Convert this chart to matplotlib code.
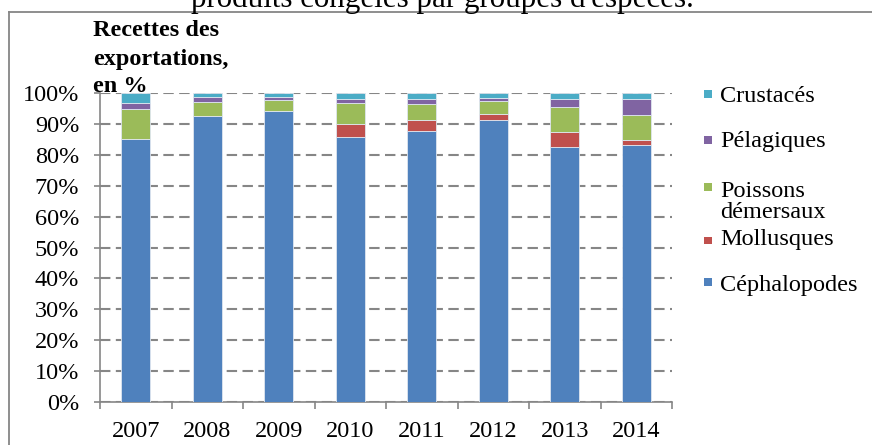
import matplotlib
matplotlib.use("Agg")
import matplotlib.pyplot as plt
import numpy as np
from matplotlib.patches import Rectangle
from matplotlib.lines import Line2D

years = ["2007", "2008", "2009", "2010", "2011", "2012", "2013", "2014"]

cephalopodes = [85.3, 92.5, 94.4, 85.8, 87.7, 91.4, 82.5, 83.1]
mollusques = [0.0, 0.0, 0.0, 4.3, 3.8, 2.0, 5.1, 1.8]
demersaux = [9.5, 4.8, 3.4, 6.9, 5.0, 4.1, 8.1, 8.1]
pelagiques = [2.2, 1.4, 1.1, 1.3, 1.6, 1.1, 2.4, 5.3]
crustaces = [3.0, 1.3, 1.1, 1.7, 1.9, 1.4, 1.9, 1.7]

series = [
    ("Céphalopodes", cephalopodes, "#4F81BD"),
    ("Mollusques", mollusques, "#C0504D"),
    ("Poissons\ndémersaux", demersaux, "#9BBB59"),
    ("Pélagiques", pelagiques, "#8064A2"),
    ("Crustacés", crustaces, "#4BACC6"),
]

plt.rcParams["font.family"] = ["Liberation Serif", "DejaVu Serif"]
plt.rcParams["font.size"] = 17.5

W, H = 872, 445
fig = plt.figure(figsize=(W / 100, H / 100), dpi=100)


def fx(px):
    return px / W


def fy(py):
    return (H - py) / H


ax = fig.add_axes([fx(100), fy(401.7), fx(672) - fx(100), fy(93.3) - fy(401.7)])

x = np.arange(len(years))
bottom = np.zeros(len(years))
for name, vals, color in series:
    ax.bar(x, vals, width=0.41, bottom=bottom, color=color,
           edgecolor="#dfe6f0", linewidth=0.6, zorder=3)
    bottom += np.array(vals)

ax.set_xlim(-0.5, len(years) - 0.5)
ax.set_ylim(0, 100)
ax.set_yticks(np.arange(0, 101, 10))
ax.set_yticklabels([f"{v}%" for v in range(0, 101, 10)])
ax.set_xticks(x)
ax.set_xticklabels(years)
ax.set_xticks(np.arange(-0.5, len(years)), minor=True)
ax.tick_params(axis="x", which="major", length=0, pad=14)
ax.tick_params(axis="x", which="minor", length=5, width=1.2, color="#868686", direction="out")
ax.tick_params(axis="y", length=4, width=1.2, color="#868686", direction="out", pad=11)

ax.yaxis.grid(True, linestyle=(0, (5, 2.6)), color="#868686", linewidth=1.5, zorder=0)
for s in ["top", "right"]:
    ax.spines[s].set_visible(False)
for s in ["left", "bottom"]:
    ax.spines[s].set_color("#868686")
    ax.spines[s].set_linewidth(1.2)

# y label, bold, top-left
for txt, py in [("Recettes des", 31), ("exportations,", 60), ("en %", 87)]:
    fig.text(fx(93), fy(py), txt, fontweight="bold", ha="left", va="center")

# cut-off title at the top
fig.text(fx(442), fy(7), "produits congelés par groupes d'espèces.",
         ha="center", va="baseline", fontsize=22.3)

# chart border
fig.add_artist(Line2D([fx(9), fx(9)], [fy(12), 0], color="#868686", linewidth=1.3))
fig.add_artist(Line2D([fx(9), 1], [fy(12), fy(12)], color="#868686", linewidth=1.3))

# legend
legend_pos = {
    "Crustacés": (94.5, 96),
    "Pélagiques": (140.5, 142),
    "Poissons\ndémersaux": (187.5, 202),
    "Mollusques": (240.5, 239),
    "Céphalopodes": (282, 286),
}
for name, vals, color in series:
    sq_y, txt_y = legend_pos[name]
    fig.add_artist(Rectangle((fx(704), fy(sq_y + 3.5)), fx(7.5), 7.5 / H,
                             facecolor=color, edgecolor="none"))
    fig.text(fx(720), fy(txt_y), name, ha="left", va="center", linespacing=1.05)

fig.savefig("out.png", dpi=100)
